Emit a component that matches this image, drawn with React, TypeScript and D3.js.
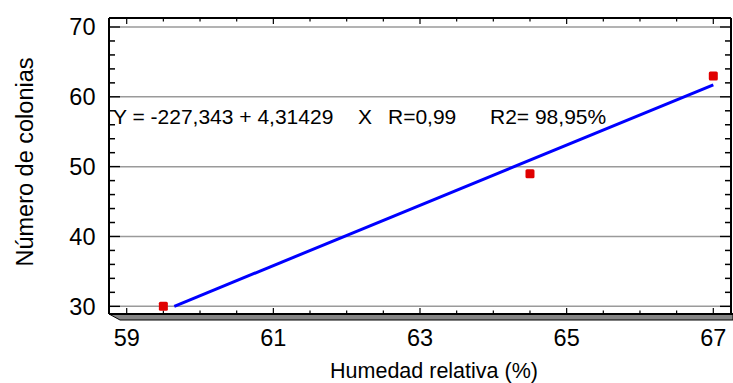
import React from "react";
import * as d3 from "d3";

const humedad = [59.5, 64.5, 67];
const colonias = [30, 49, 63];
const xTickLabels = [59, 61, 63, 65, 67];
const yTickLabels = [30, 40, 50, 60, 70];
const intercept = -227.343;
const slope = 4.31429;
const eqText = "Y = -227,343 + 4,31429";
const rText = "R=0,99";
const r2Text = "R2= 98,95%";
const xTitle = "Humedad relativa (%)";
const yTitle = "Número de colonias";

const W = 733, H = 383;
const FL = 109, FR = 731, FT = 18, FB = 314;
const FONT = "'Liberation Sans', Arial, sans-serif";

export default function App() {
  const x = d3.scaleLinear().domain([59, 67]).range([126.7, 713.3]);
  const y = d3.scaleLinear().domain([30, 70]).range([306.3, 27]);

  const xMinor = d3.range(59, 67.01, 0.5);
  const yMinor = d3.range(30, 70.01, 2);

  const x0 = (30 - intercept) / slope;
  const x1 = 67;
  const lineGen = d3.line<number>().x((d) => x(d)).y((d) => y(intercept + slope * d));

  return (
    <svg width={W} height={H} style={{ position: "absolute", left: 0, top: 0, background: "#fff" }} fontFamily={FONT}>
      {/* gridlines */}
      {yTickLabels.map((v) => (
        <line key={"g" + v} x1={FL + 11} x2={FR - 11} y1={y(v)} y2={y(v)} stroke="#9a9a9a" strokeWidth={1.5} />
      ))}
      {/* y ticks left/right */}
      {yMinor.map((v) => {
        const major = v % 10 === 0;
        const len = major ? 11 : 6;
        return (
          <g key={"yt" + v}>
            <line x1={FL} x2={FL + len} y1={y(v)} y2={y(v)} stroke="#000" strokeWidth={1.5} />
            <line x1={FR - len} x2={FR} y1={y(v)} y2={y(v)} stroke="#000" strokeWidth={1.5} />
          </g>
        );
      })}
      {/* x ticks top/bottom */}
      {xMinor.map((v) => {
        const major = Math.abs(v - Math.round(v)) < 1e-6 && Math.round(v) % 2 === 1;
        const len = major ? 6 : 3.5;
        return (
          <g key={"xt" + v}>
            <line x1={x(v)} x2={x(v)} y1={FT} y2={FT + len} stroke="#000" strokeWidth={1.2} />
            <line x1={x(v)} x2={x(v)} y1={FB} y2={FB - len} stroke="#000" strokeWidth={1.2} />
          </g>
        );
      })}
      {/* frame */}
      <line x1={FL} x2={FR} y1={FT} y2={FT} stroke="#000" strokeWidth={2} />
      <line x1={FL} x2={FL} y1={FT} y2={FB} stroke="#000" strokeWidth={2} />
      <line x1={FR} x2={FR} y1={FT} y2={320} stroke="#000" strokeWidth={2} />
      {/* 3D slab */}
      <polygon points={`${FL},${FB} ${W},${FB} ${W},320 ${FL + 11},320`} fill="#858585" stroke="#000" strokeWidth={1} />
      <line x1={FL} x2={W} y1={FB} y2={FB} stroke="#000" strokeWidth={2} />

      {/* regression line */}
      <path d={lineGen([x0, x1]) || ""} stroke="#0000ff" strokeWidth={3} fill="none" />
      {/* points */}
      {humedad.map((h, i) => (
        <rect key={"p" + i} x={x(h) - 4.5} y={y(colonias[i]) - 4.5} width={9} height={9} rx={1.5} fill="#e00000" />
      ))}

      {/* equation */}
      <text x={113} y={123.5} fontSize={21} fill="#000">{eqText}</text>
      <text x={358} y={123.5} fontSize={21} fill="#000">X</text>
      <text x={388} y={123.5} fontSize={21} fill="#000">{rText}</text>
      <text x={490} y={123.5} fontSize={21} fill="#000">{r2Text}</text>

      {/* y tick labels */}
      {yTickLabels.map((v) => (
        <text key={"yl" + v} x={95.5} y={y(v)} dy="0.36em" textAnchor="end" fontSize={23.5} fill="#000">{v}</text>
      ))}
      {/* x tick labels */}
      {xTickLabels.map((v) => (
        <text key={"xl" + v} x={x(v)} y={345.5} textAnchor="middle" fontSize={23.5} fill="#000">{v}</text>
      ))}
      {/* titles */}
      <text x={434} y={377.5} textAnchor="middle" fontSize={21.5} fill="#000">{xTitle}</text>
      <text transform={`translate(33,162) rotate(-90)`} textAnchor="middle" fontSize={23.5} fill="#000">{yTitle}</text>
    </svg>
  );
}
